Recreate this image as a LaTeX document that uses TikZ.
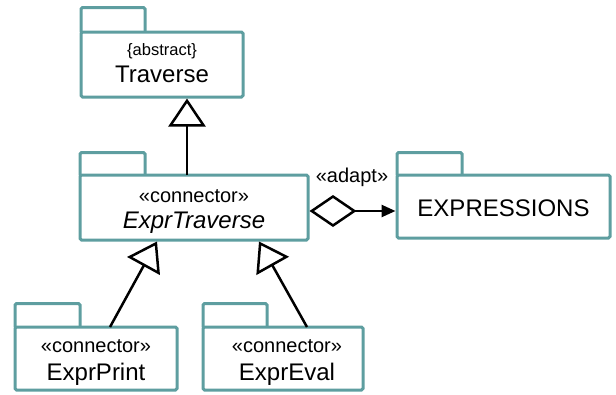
\documentclass[tikz,border=0pt]{standalone}
\usepackage{fontspec}
\setmainfont{Liberation Sans}
\usetikzlibrary{arrows.meta}
\definecolor{pkgteal}{RGB}{94,158,160}
\tikzset{
  pkgbody/.style={draw=pkgteal, line width=3pt, rounded corners=1.5pt, fill=white, inner sep=0pt},
  pkgtab/.style={draw=pkgteal, line width=3pt, rounded corners=1.5pt},
  bigtxt/.style={anchor=base, inner sep=0pt, font=\fontsize{24}{28}\selectfont},
  stereo/.style={anchor=base, inner sep=0pt, font=\fontsize{20}{24}\selectfont},
  smalltxt/.style={anchor=base, inner sep=0pt, font=\fontsize{16.5}{20}\selectfont},
  conn/.style={draw=black, line width=2.5pt},
  gen/.style={conn, -{Triangle[open, length=28pt, width=37pt, line width=2.5pt]}},
}
\begin{document}
\begin{tikzpicture}[x=1pt, y=-1pt]
\useasboundingbox (0,0) rectangle (616,394);
% Traverse
\draw[pkgtab] (81,32) |- (145,7.5) -- (145,32);
\node[pkgbody, minimum width=162pt, minimum height=65pt] (trav) at (162,64.5) {};
\node[smalltxt] (travst) at (162,55) {\{abstract\}};
\node[bigtxt] (travnm) at (162,82) {Traverse};
% ExprTraverse
\draw[pkgtab] (80,175) |- (145,152.5) -- (145,175);
\node[pkgbody, minimum width=228pt, minimum height=65pt] (et) at (194,207.5) {};
\node[stereo] (etst) at (194,202) {«connector»};
\node[bigtxt] (etnm) at (194,228) {\itshape ExprTraverse};
% EXPRESSIONS
\draw[pkgtab] (397,175) |- (462,152.5) -- (462,175);
\node[pkgbody, minimum width=213pt, minimum height=63pt] (ex) at (503.5,206.5) {};
\node[bigtxt] (exnm) at (503.5,216) {EXPRESSIONS};
% ExprPrint
\draw[pkgtab] (15,327) |- (80,303.5) -- (80,327);
\node[pkgbody, minimum width=162pt, minimum height=63pt] (ep) at (96,358.5) {};
\node[stereo] (epst) at (96,352) {«connector»};
\node[bigtxt] (epnm) at (96,380) {ExprPrint};
% ExprEval
\draw[pkgtab] (203,327) |- (267,303.5) -- (267,327);
\node[pkgbody, minimum width=160pt, minimum height=63pt] (ee) at (283,358.5) {};
\node[stereo] (eest) at (287,352) {«connector»};
\node[bigtxt] (eenm) at (287,380) {ExprEval};
% connectors
\coordinate (g1a) at (187,175);
\coordinate (g1b) at (187,98.5);
\draw[gen] (g1a) -- (g1b);
\coordinate (g2a) at (110,327);
\coordinate (g2b) at (157,241.5);
\draw[gen] (g2a) -- (g2b);
\coordinate (g3a) at (307,327);
\coordinate (g3b) at (259,241.5);
\draw[gen] (g3a) -- (g3b);
\coordinate (aa) at (309.5,211);
\coordinate (ab) at (395.5,211);
\draw[conn, {Diamond[open, length=47pt, width=32pt, line width=2.5pt]}-{Triangle[length=14pt, width=12pt]}] (aa) -- (ab);
\node[stereo] (adapt) at (352,182) {«adapt»};
\end{tikzpicture}
\end{document}
